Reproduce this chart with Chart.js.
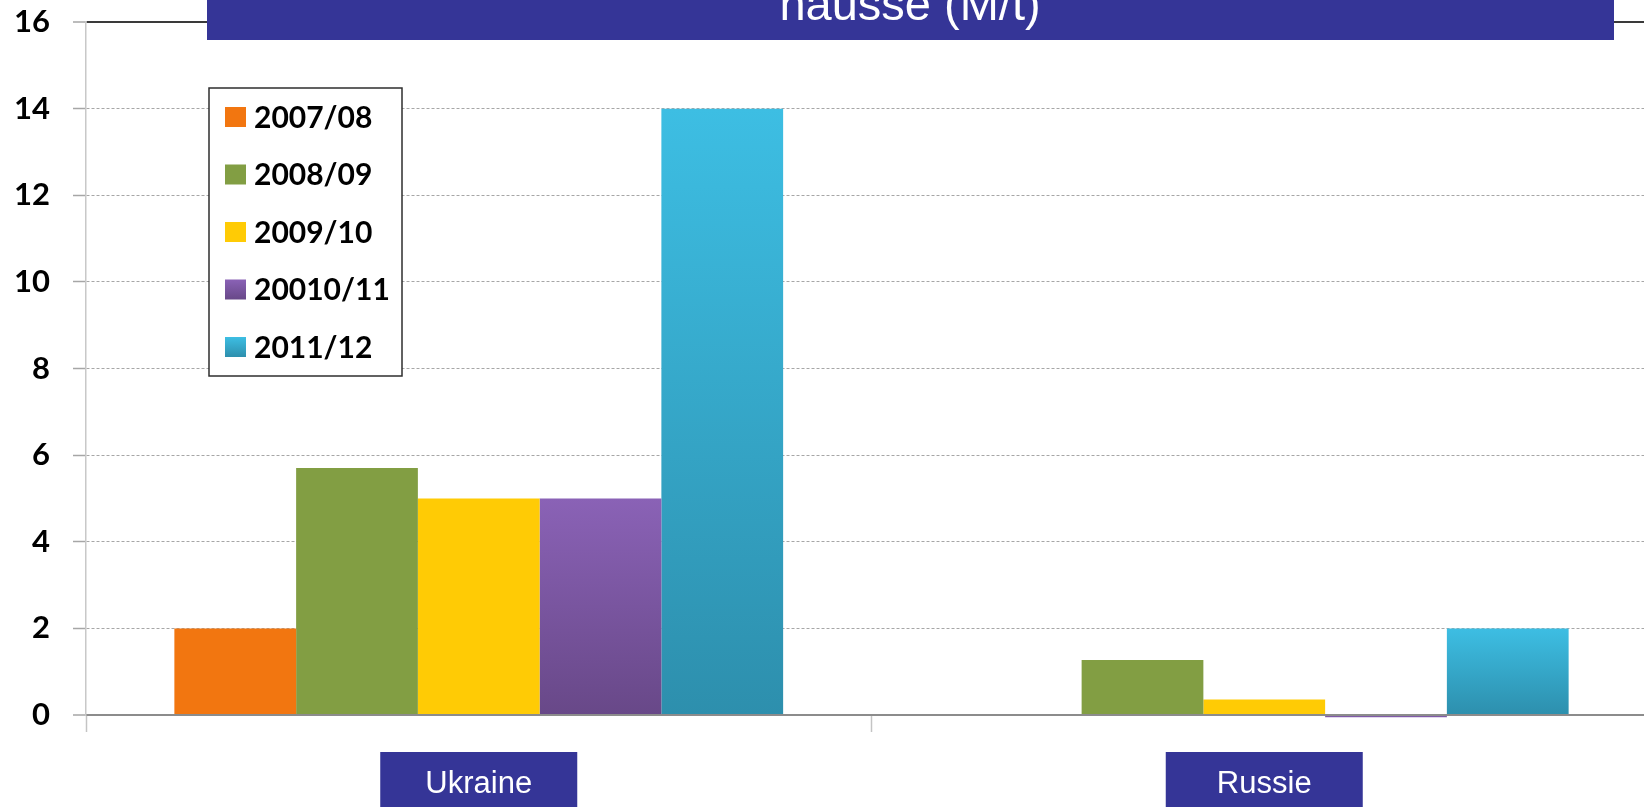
<!DOCTYPE html>
<html>
<head>
<meta charset="utf-8">
<title>Ukraine / Russie</title>
<script src="https://cdn.jsdelivr.net/npm/chart.js@4.4.1/dist/chart.umd.min.js"></script>
<style>
  html, body { margin: 0; padding: 0; background: #fff; overflow: hidden; }
  canvas { display: block; }
</style>
</head>
<body>
<canvas id="chart" width="1660" height="807"></canvas>
<script>
// categories and seasons
const categories = ['Ukraine', 'Russie'];
const seasons = ['2007/08', '2008/09', '2009/10', '20010/11', '2011/12'];

// values per season (M/t), one entry per category
const s2007 = [2.0, 0];
const s2008 = [5.7, 1.27];
const s2009 = [5.0, 0.36];
const s2010 = [5.0, -0.05];
const s2011 = [14.0, 2.0];

const yTicks = [0, 2, 4, 6, 8, 10, 12, 14, 16];
const titleText = 'hausse (M/t)';

// fill colours: top and bottom of each bar (flat ones use the same twice)
const topColors = ['#f27610', '#829e43', '#ffcb05', '#8a62b6', '#3dbee3'];
const bottomColors = ['#f27610', '#829e43', '#ffcb05', '#684888', '#2d8fad'];

const NAVY = '#353597';

function barFill(i) {
  if (topColors[i] === bottomColors[i]) return topColors[i];
  return function (ctx) {
    const chart = ctx.chart;
    if (!chart.chartArea || ctx.type !== 'data') return topColors[i];
    const y = chart.scales.y;
    const yTop = y.getPixelForValue(ctx.raw);
    const yBase = y.getPixelForValue(0);
    if (Math.abs(yBase - yTop) < 1) return bottomColors[i];
    const g = chart.ctx.createLinearGradient(0, yTop, 0, yBase);
    g.addColorStop(0, topColors[i]);
    g.addColorStop(1, bottomColors[i]);
    return g;
  };
}

const series = [s2007, s2008, s2009, s2010, s2011];

// title strip, category boxes and the boxed legend
const decorations = {
  id: 'decorations',
  afterDraw(chart) {
    const c = chart.ctx;
    const x = chart.scales.x;
    c.save();

    // title strip at the top
    c.fillStyle = NAVY;
    c.fillRect(207, 0, 1407, 40);
    c.fillStyle = '#fff';
    c.font = '47px "Liberation Sans", Arial, sans-serif';
    c.textAlign = 'center';
    c.textBaseline = 'alphabetic';
    c.fillText(titleText, 910, 20);

    // category name boxes under the axis
    c.font = '31px "Liberation Sans", Arial, sans-serif';
    categories.forEach((name, i) => {
      const cx = x.getPixelForValue(i);
      c.fillStyle = NAVY;
      c.fillRect(cx - 98.5, 752, 197, 60);
      c.fillStyle = '#fff';
      c.fillText(name, cx, 793);
    });

    // legend
    c.fillStyle = '#fff';
    c.fillRect(209, 88, 193, 288);
    c.strokeStyle = '#2e2e2e';
    c.lineWidth = 1.5;
    c.strokeRect(209, 88, 193, 288);
    c.font = 'bold 30px Lato, "Open Sans", sans-serif';
    c.textAlign = 'left';
    c.textBaseline = 'middle';
    chart.data.datasets.forEach((ds, i) => {
      const cy = 117 + i * 57.5;
      const g = c.createLinearGradient(0, cy - 10, 0, cy + 10);
      g.addColorStop(0, topColors[i]);
      g.addColorStop(1, bottomColors[i]);
      c.fillStyle = g;
      c.fillRect(225, cy - 10, 21, 20);
      c.fillStyle = '#000';
      c.fillText(ds.label, 254, cy + 1);
    });

    c.restore();
  }
};

new Chart(document.getElementById('chart'), {
  type: 'bar',
  data: {
    labels: categories,
    datasets: seasons.map((label, i) => ({
      label: label,
      data: series[i],
      backgroundColor: barFill(i),
      borderWidth: 0,
      categoryPercentage: 0.775,
      barPercentage: 1.0,
      clip: false
    }))
  },
  options: {
    responsive: false,
    maintainAspectRatio: false,
    animation: false,
    devicePixelRatio: 1,
    layout: { padding: { top: 22, right: 3, left: 0, bottom: 0 } },
    plugins: {
      legend: { display: false },
      title: { display: false },
      tooltip: { enabled: false }
    },
    scales: {
      x: {
        afterFit: (s) => { s.height = 92; },
        ticks: { display: false },
        grid: {
          offset: true,
          drawOnChartArea: false,
          drawTicks: true,
          tickLength: 17,
          tickColor: '#c4c4c4',
          tickWidth: 1.5
        },
        border: { color: '#8c8c8c', width: 2 }
      },
      y: {
        min: 0,
        max: 16,
        afterFit: (s) => {
          s.width = 86;
          s.paddingTop = 0;
          s.paddingBottom = 0;
        },
        afterBuildTicks: (s) => { s.ticks = yTicks.map(v => ({ value: v })); },
        ticks: {
          color: '#000',
          padding: 23,
          font: { family: 'Lato, "Open Sans", sans-serif', size: 31, weight: 'bold' }
        },
        grid: {
          color: (ctx) => {
            const v = ctx.tick ? ctx.tick.value : null;
            if (v === 16) return '#3a3a3a';
            if (v === 0) return '#8c8c8c';
            return '#a6a6a6';
          },
          lineWidth: (ctx) => {
            const v = ctx.tick ? ctx.tick.value : null;
            return (v === 16 || v === 0) ? 2 : 1;
          },
          tickLength: 13,
          tickColor: '#a6a6a6',
          tickWidth: 1.5
        },
        border: {
          color: '#c8c8c8',
          width: 1.5,
          dash: (ctx) => {
            const v = ctx.tick ? ctx.tick.value : null;
            return (v === null || v === 0 || v === 16) ? [] : [3, 2];
          }
        }
      }
    }
  },
  plugins: [decorations]
});
</script>
</body>
</html>
